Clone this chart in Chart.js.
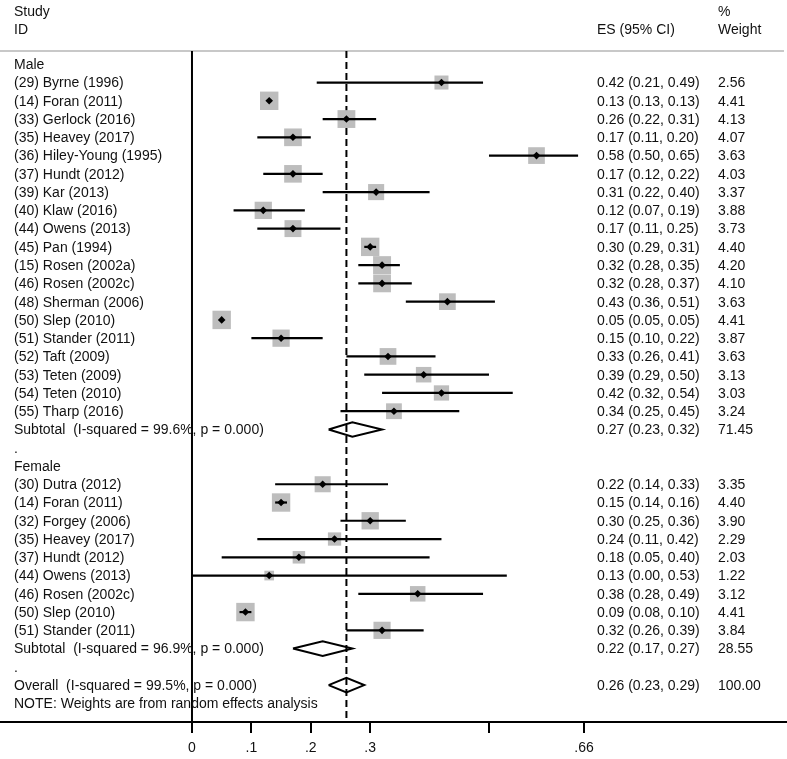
<!DOCTYPE html>
<html>
<head>
<meta charset="utf-8">
<script src="https://cdn.jsdelivr.net/npm/chart.js@4.4.1/dist/chart.umd.min.js"></script>
<style>
  html, body { margin: 0; padding: 0; background: #fff; }
  #wrap { width: 787px; height: 759px; position: relative; }
</style>
</head>
<body>
<div id="wrap"><canvas id="forest"></canvas></div>
<script>
// studies, effect sizes (95% CI) and % weights
const maleStudies = ['(29) Byrne (1996)', '(14) Foran (2011)', '(33) Gerlock (2016)', '(35) Heavey (2017)',
    '(36) Hiley-Young (1995)', '(37) Hundt (2012)', '(39) Kar (2013)', '(40) Klaw (2016)', '(44) Owens (2013)',
    '(45) Pan (1994)', '(15) Rosen (2002a)', '(46) Rosen (2002c)', '(48) Sherman (2006)', '(50) Slep (2010)',
    '(51) Stander (2011)', '(52) Taft (2009)', '(53) Teten (2009)', '(54) Teten (2010)', '(55) Tharp (2016)'];
const maleES = [0.42, 0.13, 0.26, 0.17, 0.58, 0.17, 0.31, 0.12, 0.17, 0.30, 0.32, 0.32, 0.43, 0.05, 0.15, 0.33, 0.39, 0.42, 0.34];
const maleLo = [0.21, 0.13, 0.22, 0.11, 0.50, 0.12, 0.22, 0.07, 0.11, 0.29, 0.28, 0.28, 0.36, 0.05, 0.10, 0.26, 0.29, 0.32, 0.25];
const maleHi = [0.49, 0.13, 0.31, 0.20, 0.65, 0.22, 0.40, 0.19, 0.25, 0.31, 0.35, 0.37, 0.51, 0.05, 0.22, 0.41, 0.50, 0.54, 0.45];
const maleWeight = [2.56, 4.41, 4.13, 4.07, 3.63, 4.03, 3.37, 3.88, 3.73, 4.40, 4.20, 4.10, 3.63, 4.41, 3.87, 3.63, 3.13, 3.03, 3.24];

const femaleStudies = ['(30) Dutra (2012)', '(14) Foran (2011)', '(32) Forgey (2006)', '(35) Heavey (2017)',
    '(37) Hundt (2012)', '(44) Owens (2013)', '(46) Rosen (2002c)', '(50) Slep (2010)', '(51) Stander (2011)'];
const femaleES = [0.22, 0.15, 0.30, 0.24, 0.18, 0.13, 0.38, 0.09, 0.32];
const femaleLo = [0.14, 0.14, 0.25, 0.11, 0.05, 0.00, 0.28, 0.08, 0.26];
const femaleHi = [0.33, 0.16, 0.36, 0.42, 0.40, 0.53, 0.49, 0.10, 0.39];
const femaleWeight = [3.35, 4.40, 3.90, 2.29, 2.03, 1.22, 3.12, 4.41, 3.84];

const summaryLabels = ['Subtotal  (I-squared = 99.6%, p = 0.000)', 'Subtotal  (I-squared = 96.9%, p = 0.000)',
    'Overall  (I-squared = 99.5%, p = 0.000)'];
const summaryES = [0.27, 0.22, 0.26];
const summaryLo = [0.23, 0.17, 0.23];
const summaryHi = [0.32, 0.27, 0.29];
const summaryWeight = [71.45, 28.55, 100.00];

const overallES = 0.26;
const xTicks = [0, 0.1, 0.2, 0.3, 0.5, 0.66];
const xTickLabels = ['0', '.1', '.2', '.3', '', '.66'];
const noteText = 'NOTE: Weights are from random effects analysis';

// build the row list, one row per line of text
const rows = [];
rows.push({ label: 'Male' });
maleStudies.forEach((s, i) => rows.push({ label: s, es: maleES[i], lo: maleLo[i], hi: maleHi[i], w: maleWeight[i], study: true }));
rows.push({ label: summaryLabels[0], es: summaryES[0], lo: summaryLo[0], hi: summaryHi[0], w: summaryWeight[0], summary: true });
rows.push({ label: '.' });
rows.push({ label: 'Female' });
femaleStudies.forEach((s, i) => rows.push({ label: s, es: femaleES[i], lo: femaleLo[i], hi: femaleHi[i], w: femaleWeight[i], study: true }));
rows.push({ label: summaryLabels[1], es: summaryES[1], lo: summaryLo[1], hi: summaryHi[1], w: summaryWeight[1], summary: true });
rows.push({ label: '.' });
rows.push({ label: summaryLabels[2], es: summaryES[2], lo: summaryLo[2], hi: summaryHi[2], w: summaryWeight[2], summary: true });
rows.push({ label: noteText });
rows.forEach((r, i) => r.row = i);

const studyRows = rows.filter(r => r.study);
const summaryRows = rows.filter(r => r.summary);

const X_MIN = -0.3232, X_MAX = 1.0017;
const Y_TOP = -3.52, Y_BOTTOM = 36.02;
const HEADER_LINE = -0.73;

const datasets = [];

// reference lines
datasets.push({
    data: [{ x: X_MIN, y: HEADER_LINE }, { x: 0.9966, y: HEADER_LINE }],
    showLine: true, borderColor: '#c8c8c8', borderWidth: 2, pointRadius: 0, order: 9
});
datasets.push({
    data: [{ x: 0, y: HEADER_LINE }, { x: 0, y: Y_BOTTOM }],
    showLine: true, borderColor: '#000', borderWidth: 2, pointRadius: 0, order: 8
});
datasets.push({
    data: [{ x: overallES, y: HEADER_LINE }, { x: overallES, y: Y_BOTTOM }],
    showLine: true, borderColor: '#000', borderWidth: 2, borderDash: [7, 4], pointRadius: 0, order: 7
});

// weight boxes
datasets.push({
    data: studyRows.map(r => ({ x: r.es, y: r.row })),
    pointStyle: 'rect',
    pointRadius: studyRows.map(r => 6.2 * Math.sqrt(r.w)),
    backgroundColor: '#bdbdbd', borderWidth: 0, order: 6
});

// confidence intervals
studyRows.forEach(r => {
    datasets.push({
        data: [{ x: r.lo, y: r.row }, { x: r.hi, y: r.row }],
        showLine: true, borderColor: '#000', borderWidth: 2.2, pointRadius: 0, order: 5
    });
});

// point estimates
datasets.push({
    data: studyRows.map(r => ({ x: r.es, y: r.row })),
    pointStyle: 'rectRot', pointRadius: 3.8,
    backgroundColor: '#000', borderWidth: 0, order: 1
});

// pooled diamonds
summaryRows.forEach(r => {
    datasets.push({
        data: [{ x: r.lo, y: r.row }, { x: r.es, y: r.row - 0.4 }, { x: r.hi, y: r.row },
               { x: r.es, y: r.row + 0.4 }, { x: r.lo, y: r.row }],
        showLine: true, borderColor: '#000', borderWidth: 2, pointRadius: 0, order: 2
    });
});

const FONT = '14px "Liberation Sans", Arial, sans-serif';

const textColumns = {
    id: 'textColumns',
    afterDraw(chart) {
        const ctx = chart.ctx;
        const y = chart.scales.y;
        const at = (v) => y.getPixelForValue(v) + 1;
        ctx.save();
        ctx.font = FONT;
        ctx.fillStyle = '#111';
        ctx.textBaseline = 'middle';
        ctx.textAlign = 'left';
        ctx.fillText('Study', 14, at(-2.9));
        ctx.fillText('ID', 14, at(-1.92));
        ctx.fillText('ES (95% CI)', 597, at(-1.92));
        ctx.fillText('%', 718, at(-2.9));
        ctx.fillText('Weight', 718, at(-1.92));
        rows.forEach(r => {
            const py = at(r.row);
            ctx.fillText(r.label, 14, py);
            if (r.es !== undefined) {
                ctx.fillText(`${r.es.toFixed(2)} (${r.lo.toFixed(2)}, ${r.hi.toFixed(2)})`, 597, py);
                ctx.fillText(r.w.toFixed(2), 718, py);
            }
        });
        ctx.restore();
    }
};

new Chart(document.getElementById('forest'), {
    type: 'scatter',
    data: { datasets: datasets },
    options: {
        responsive: true,
        maintainAspectRatio: false,
        animation: false,
        events: [],
        layout: { padding: 0, autoPadding: false },
        plugins: {
            legend: { display: false },
            tooltip: { enabled: false }
        },
        scales: {
            y: {
                type: 'linear',
                display: false,
                reverse: true,
                min: Y_TOP,
                max: Y_BOTTOM
            },
            x: {
                type: 'linear',
                position: 'bottom',
                min: X_MIN,
                max: X_MAX,
                afterBuildTicks: (axis) => {
                    axis.ticks = xTicks.map(v => ({ value: v }));
                },
                afterFit: (axis) => {
                    axis.height = 37;
                },
                ticks: {
                    autoSkip: false,
                    maxRotation: 0,
                    padding: 7,
                    color: '#111',
                    font: { family: '"Liberation Sans", Arial, sans-serif', size: 14 },
                    callback: (value, index) => xTickLabels[index]
                },
                grid: {
                    drawOnChartArea: false,
                    drawTicks: true,
                    tickLength: 11,
                    color: '#000',
                    lineWidth: 2
                },
                border: { display: true, color: '#000', width: 2 }
            }
        }
    },
    plugins: [textColumns]
});
</script>
</body>
</html>
